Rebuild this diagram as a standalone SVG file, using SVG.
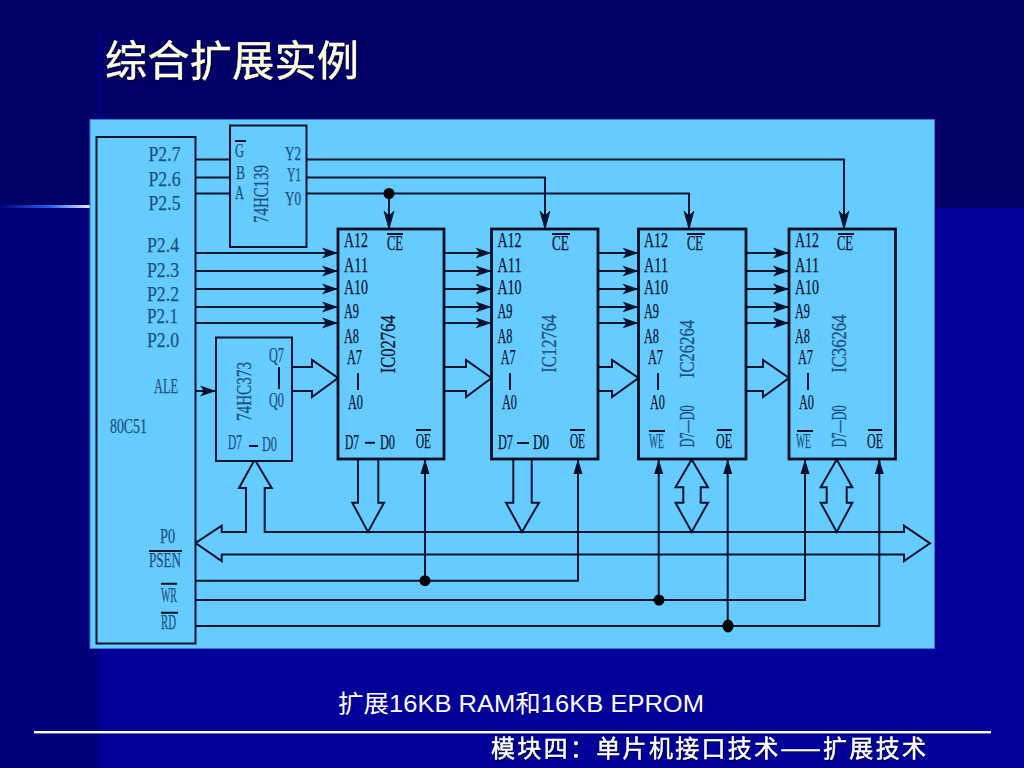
<svg xmlns="http://www.w3.org/2000/svg" width="1024" height="768" viewBox="0 0 1024 768">
<style>
text{font-family:"Liberation Serif","Noto Sans CJK SC",serif;font-size:21px;fill:#04102c;stroke:#04102c;stroke-width:.25}
.m{fill:#1a5080;stroke:#1a5080}
.s{font-size:18.5px}
.v{font-size:20px;fill:#1a5080;stroke:#1a5080}
.box{fill:#66ccff;stroke:#02132e;stroke-width:2}
.chip{fill:#66ccff;stroke:#000c20;stroke-width:2.8}
.w{fill:none;stroke:#02132e;stroke-width:2}
.bus{fill:#66ccff;stroke:#02132e;stroke-width:2;stroke-linejoin:miter}
.bar{fill:none;stroke:#04102c;stroke-width:2}
.dot{fill:#000}
.cjk{font-family:"Noto Sans CJK SC","Liberation Sans",sans-serif}
</style>
<defs>
<linearGradient id="glow" x1="0" x2="1" y1="0" y2="0">
<stop offset="0" stop-color="#000077"/><stop offset="0.55" stop-color="#2a5cf0"/><stop offset="1" stop-color="#e8ecf8"/>
</linearGradient>
<marker id="ah" markerUnits="userSpaceOnUse" markerWidth="18" markerHeight="12" refX="16" refY="6" orient="auto">
<path d="M0,.5 L16,6 L0,11.5 L4,6 Z" fill="#04102c"/>
</marker>
<marker id="ce" markerUnits="userSpaceOnUse" markerWidth="20" markerHeight="12" refX="18" refY="6" orient="auto">
<path d="M0,1 L18,6 L0,11 L5,6 Z" fill="#04102c" stroke="#04102c" stroke-width="0.8"/>
</marker>
<marker id="oe" markerUnits="userSpaceOnUse" markerWidth="16" markerHeight="10" refX="15" refY="5" orient="auto">
<path d="M0,.5 L15,5 L0,9.5 Z" fill="#04102c"/>
</marker>
</defs>

<g id="background">
<rect width="1024" height="768" fill="#000099"/>
<rect width="98" height="768" fill="#000078"/>
<rect width="1024" height="208" fill="#000066"/>
<rect x="98" y="33" width="3" height="87" fill="#00008a"/>
<rect x="0" y="205" width="90" height="3" fill="url(#glow)"/>
<rect x="34" y="731" width="957" height="2.4" fill="#fff"/>
</g>
<rect id="panel" x="90" y="119.5" width="844.5" height="529" fill="#66ccff" stroke="#3a7ae0"/>

<g id="connectors">
<path class="w" d="M195 159.5H230M195 177.5H230M195 193.5H230"/>
<path class="w" d="M306 159.5H844V229" marker-end="url(#ce)"/>
<path class="w" d="M306 177.5H545V229" marker-end="url(#ce)"/>
<path class="w" d="M306 193.5H689V229" marker-end="url(#ce)"/>
<path class="w" d="M389 193.5V229" marker-end="url(#ce)"/>
<path class="w" d="M195 253H338" marker-end="url(#ah)"/><path class="w" d="M195 271H338" marker-end="url(#ah)"/><path class="w" d="M195 289H338" marker-end="url(#ah)"/><path class="w" d="M195 307H338" marker-end="url(#ah)"/><path class="w" d="M195 323H338" marker-end="url(#ah)"/>
<path class="w" d="M444 253H491.5" marker-end="url(#ah)"/><path class="w" d="M444 271H491.5" marker-end="url(#ah)"/><path class="w" d="M444 289H491.5" marker-end="url(#ah)"/><path class="w" d="M444 307H491.5" marker-end="url(#ah)"/><path class="w" d="M444 323H491.5" marker-end="url(#ah)"/>
<path class="w" d="M598 253H638.5" marker-end="url(#ah)"/><path class="w" d="M598 271H638.5" marker-end="url(#ah)"/><path class="w" d="M598 289H638.5" marker-end="url(#ah)"/><path class="w" d="M598 307H638.5" marker-end="url(#ah)"/><path class="w" d="M598 323H638.5" marker-end="url(#ah)"/>
<path class="w" d="M746 253H789" marker-end="url(#ah)"/><path class="w" d="M746 271H789" marker-end="url(#ah)"/><path class="w" d="M746 289H789" marker-end="url(#ah)"/><path class="w" d="M746 307H789" marker-end="url(#ah)"/><path class="w" d="M746 323H789" marker-end="url(#ah)"/>
<path class="w" d="M195 391H216" marker-end="url(#ah)"/>
<path class="bus" d="M292 367H312V360L338 378L312 397V391H292"/>
<path class="bus" d="M444 367H466V360L491.5 378L466 397V391H444"/>
<path class="bus" d="M598 367H612V360L638.5 378L612 397V391H598"/>
<path class="bus" d="M746 367H763V360L789 378L763 397V391H746"/>
<path class="bus" d="M221.7 532H246V488H239L254.7 459.5L271.7 488H264.7V532H904V525.7L930 543.3L904 561V554.5H221.7V561L195.6 543L221.7 525.7Z"/>
<path class="bus" d="M358 459V502.7H352.3L368 532L384 502.7H378.3V459"/>
<path class="bus" d="M513.3 459V502.7H506L522 532L539 502.7H531.7V459"/>
<path class="bus" d="M691.7 459.5L708 487.3H700.7V502.7H708L691.7 532L675.5 502.7H683.3V487.3H675.5Z"/>
<path class="bus" d="M836.7 459.5L852.3 487.3H846.7V502.7H852.3L836.7 532L820.7 502.7H826.7V487.3H820.7Z"/>
<path class="w" d="M195 580.7H578V459" marker-end="url(#oe)"/>
<path class="w" d="M425 580.7V459" marker-end="url(#oe)"/>
<path class="w" d="M195 600H805V459" marker-end="url(#oe)"/>
<path class="w" d="M658.7 600V459" marker-end="url(#oe)"/>
<path class="w" d="M195 626H879.3V459" marker-end="url(#oe)"/>
<path class="w" d="M727.7 626V459" marker-end="url(#oe)"/>
<circle class="dot" cx="389" cy="193.5" r="5.5"/>
<circle class="dot" cx="425" cy="580.7" r="5.5"/>
<circle class="dot" cx="659" cy="600" r="5.5"/>
<ellipse class="dot" cx="728" cy="626" rx="5.5" ry="6.5"/>
</g>

<g id="cpu-80c51">
<rect class="box" x="96.5" y="137" width="99" height="506.5"/>
<text class="m" x="148.5" y="160.7" textLength="32" lengthAdjust="spacingAndGlyphs">P2.7</text>
<text class="m" x="148.5" y="186" textLength="32" lengthAdjust="spacingAndGlyphs">P2.6</text>
<text class="m" x="148.5" y="210" textLength="32" lengthAdjust="spacingAndGlyphs">P2.5</text>
<text class="m" x="147" y="252.3" textLength="32" lengthAdjust="spacingAndGlyphs">P2.4</text>
<text class="m" x="147" y="276.7" textLength="32" lengthAdjust="spacingAndGlyphs">P2.3</text>
<text class="m" x="147" y="300.7" textLength="32" lengthAdjust="spacingAndGlyphs">P2.2</text>
<text class="m" x="147" y="323.3" textLength="31" lengthAdjust="spacingAndGlyphs">P2.1</text>
<text class="m" x="147" y="347.3" textLength="32" lengthAdjust="spacingAndGlyphs">P2.0</text>
<text class="m" x="154" y="392.7" textLength="24" lengthAdjust="spacingAndGlyphs">ALE</text>
<text class="m" x="110" y="433.3" textLength="37" lengthAdjust="spacingAndGlyphs">80C51</text>
<text class="m" x="160" y="542.7" textLength="15" lengthAdjust="spacingAndGlyphs">P0</text>
<text class="m" x="149" y="567.3" textLength="32" lengthAdjust="spacingAndGlyphs">PSEN</text>
<text class="m" x="161" y="601.7" textLength="16" lengthAdjust="spacingAndGlyphs">WR</text>
<text class="m" x="161" y="629" textLength="15" lengthAdjust="spacingAndGlyphs">RD</text>
<path class="bar" d="M149 551H182M161 583.7H177M161 612.7H178"/>
</g>

<g id="decoder-74hc139">
<rect class="box" x="230" y="125.5" width="76.5" height="121.5"/>
<text class="m s" x="235" y="157" textLength="9" lengthAdjust="spacingAndGlyphs">G</text>
<text class="m s" x="236" y="179" textLength="9" lengthAdjust="spacingAndGlyphs">B</text>
<text class="m s" x="235" y="199" textLength="9" lengthAdjust="spacingAndGlyphs">A</text>
<text class="m s" x="285" y="160" textLength="16" lengthAdjust="spacingAndGlyphs">Y2</text>
<text class="m s" x="287" y="181" textLength="14" lengthAdjust="spacingAndGlyphs">Y1</text>
<text class="m s" x="285" y="205" textLength="16" lengthAdjust="spacingAndGlyphs">Y0</text>
<text class="v" transform="translate(268 223) rotate(-90)" textLength="58" lengthAdjust="spacingAndGlyphs">74HC139</text>
<path class="bar" d="M235 141H246"/>
</g>

<g id="latch-74hc373">
<rect class="box" x="216" y="337.5" width="76" height="123.5"/>
<text class="m" x="269" y="361.7" textLength="15" lengthAdjust="spacingAndGlyphs">Q7</text>
<text class="m" x="269" y="407" textLength="15" lengthAdjust="spacingAndGlyphs">Q0</text>
<text class="m" x="228" y="449" textLength="14" lengthAdjust="spacingAndGlyphs">D7</text>
<text class="m" x="262" y="450.7" textLength="15" lengthAdjust="spacingAndGlyphs">D0</text>
<text class="v" transform="translate(250.7 421) rotate(-90)" textLength="59" lengthAdjust="spacingAndGlyphs">74HC373</text>
<path class="bar" d="M279 367V389M249 446H258"/>
</g>

<g id="ic0-2764">
<rect class="chip" x="338" y="229" width="106" height="230"/>
<text x="344" y="246.7" textLength="24" lengthAdjust="spacingAndGlyphs">A12</text>
<text x="344" y="271.7" textLength="24" lengthAdjust="spacingAndGlyphs">A11</text>
<text x="344" y="294" textLength="24" lengthAdjust="spacingAndGlyphs">A10</text>
<text x="344" y="318" textLength="15" lengthAdjust="spacingAndGlyphs">A9</text>
<text x="344" y="342.7" textLength="15" lengthAdjust="spacingAndGlyphs">A8</text>
<text x="347" y="364" textLength="15" lengthAdjust="spacingAndGlyphs">A7</text>
<text x="348" y="409" textLength="15" lengthAdjust="spacingAndGlyphs">A0</text>
<text x="345" y="449" textLength="14" lengthAdjust="spacingAndGlyphs">D7</text>
<text x="380" y="449" textLength="15" lengthAdjust="spacingAndGlyphs">D0</text>
<text x="416" y="448" textLength="15" lengthAdjust="spacingAndGlyphs">OE</text>
<text x="387" y="250" textLength="16" lengthAdjust="spacingAndGlyphs">CE</text>
<text class="v" transform="translate(395 373.3) rotate(-90)" textLength="58" lengthAdjust="spacingAndGlyphs" style="fill:#04102c;stroke:#04102c">IC02764</text>
<path class="bar" d="M358 373V390M365 442.7H375M416 430H431M387 234H403"/>
</g>

<g id="ic1-2764">
<rect class="chip" x="491.5" y="229" width="106.5" height="230"/>
<text x="497.5" y="246.7" textLength="24" lengthAdjust="spacingAndGlyphs">A12</text>
<text x="497.5" y="271.7" textLength="24" lengthAdjust="spacingAndGlyphs">A11</text>
<text x="497.5" y="294" textLength="24" lengthAdjust="spacingAndGlyphs">A10</text>
<text x="497.5" y="318" textLength="15" lengthAdjust="spacingAndGlyphs">A9</text>
<text x="497.5" y="342.7" textLength="15" lengthAdjust="spacingAndGlyphs">A8</text>
<text x="500.7" y="364" textLength="15" lengthAdjust="spacingAndGlyphs">A7</text>
<text x="502" y="409" textLength="15" lengthAdjust="spacingAndGlyphs">A0</text>
<text x="498" y="449" textLength="15" lengthAdjust="spacingAndGlyphs">D7</text>
<text x="533" y="449" textLength="16" lengthAdjust="spacingAndGlyphs">D0</text>
<text x="570" y="448" textLength="15" lengthAdjust="spacingAndGlyphs">OE</text>
<text x="552" y="250" textLength="17" lengthAdjust="spacingAndGlyphs">CE</text>
<text class="v" transform="translate(555.7 372.7) rotate(-90)" textLength="58" lengthAdjust="spacingAndGlyphs">IC12764</text>
<path class="bar" d="M510 373V390M517 443H529M570 430H585M552 234H570"/>
</g>

<g id="ic2-6264">
<rect class="chip" x="638.5" y="229" width="107.5" height="230"/>
<text x="644" y="246.7" textLength="24" lengthAdjust="spacingAndGlyphs">A12</text>
<text x="644" y="271.7" textLength="24" lengthAdjust="spacingAndGlyphs">A11</text>
<text x="644" y="294" textLength="24" lengthAdjust="spacingAndGlyphs">A10</text>
<text x="644" y="318" textLength="15" lengthAdjust="spacingAndGlyphs">A9</text>
<text x="644" y="342.7" textLength="15" lengthAdjust="spacingAndGlyphs">A8</text>
<text x="648" y="364" textLength="15" lengthAdjust="spacingAndGlyphs">A7</text>
<text x="650" y="409" textLength="15" lengthAdjust="spacingAndGlyphs">A0</text>
<text class="m" x="649" y="448" textLength="15" lengthAdjust="spacingAndGlyphs">WE</text>
<text x="716" y="448" textLength="16" lengthAdjust="spacingAndGlyphs">OE</text>
<text x="687" y="250" textLength="16" lengthAdjust="spacingAndGlyphs">CE</text>
<text class="v" transform="translate(694 378) rotate(-90)" textLength="58" lengthAdjust="spacingAndGlyphs">IC26264</text>
<text class="v" transform="translate(694 447.3) rotate(-90)" textLength="42" lengthAdjust="spacingAndGlyphs">D7—D0</text>
<path class="bar" d="M658 373V390M649 431H665M717 430H732M687 234H705"/>
</g>

<g id="ic3-6264">
<rect class="chip" x="789" y="229" width="106.5" height="230"/>
<text x="795" y="246.7" textLength="24" lengthAdjust="spacingAndGlyphs">A12</text>
<text x="795" y="271.7" textLength="24" lengthAdjust="spacingAndGlyphs">A11</text>
<text x="795" y="294" textLength="24" lengthAdjust="spacingAndGlyphs">A10</text>
<text x="795" y="318" textLength="15" lengthAdjust="spacingAndGlyphs">A9</text>
<text x="795" y="342.7" textLength="15" lengthAdjust="spacingAndGlyphs">A8</text>
<text x="798" y="364" textLength="15" lengthAdjust="spacingAndGlyphs">A7</text>
<text x="799" y="409" textLength="15" lengthAdjust="spacingAndGlyphs">A0</text>
<text class="m" x="796" y="448" textLength="15" lengthAdjust="spacingAndGlyphs">WE</text>
<text x="867" y="448" textLength="16" lengthAdjust="spacingAndGlyphs">OE</text>
<text x="837" y="250" textLength="16" lengthAdjust="spacingAndGlyphs">CE</text>
<text class="v" transform="translate(846 372.7) rotate(-90)" textLength="58" lengthAdjust="spacingAndGlyphs">IC36264</text>
<text class="v" transform="translate(846 447.3) rotate(-90)" textLength="42" lengthAdjust="spacingAndGlyphs">D7—D0</text>
<path class="bar" d="M808 373V390M797 431H813M868 430H882M838 234H854"/>
</g>

<g id="captions">
<text class="cjk" x="105" y="76" textLength="254" lengthAdjust="spacing" style="font-size:42px;fill:#ffffe0;stroke:#ffffe0;stroke-width:.5;filter:drop-shadow(1.5px 1.5px 0 #000033)">综合扩展实例</text>
<text x="338" y="712" textLength="366" lengthAdjust="spacingAndGlyphs" style="font-family:'Liberation Sans','Noto Sans CJK SC',sans-serif;font-size:24px;fill:#fff;stroke:none">扩展16KB RAM和16KB EPROM</text>
<text class="cjk" x="491" y="757" textLength="435" lengthAdjust="spacing" style="font-size:24px;fill:#fff;stroke:#fff;stroke-width:.5;filter:drop-shadow(1.5px 1.5px 0 #000033)">模块四：单片机接口技术——扩展技术</text>
</g>
</svg>
